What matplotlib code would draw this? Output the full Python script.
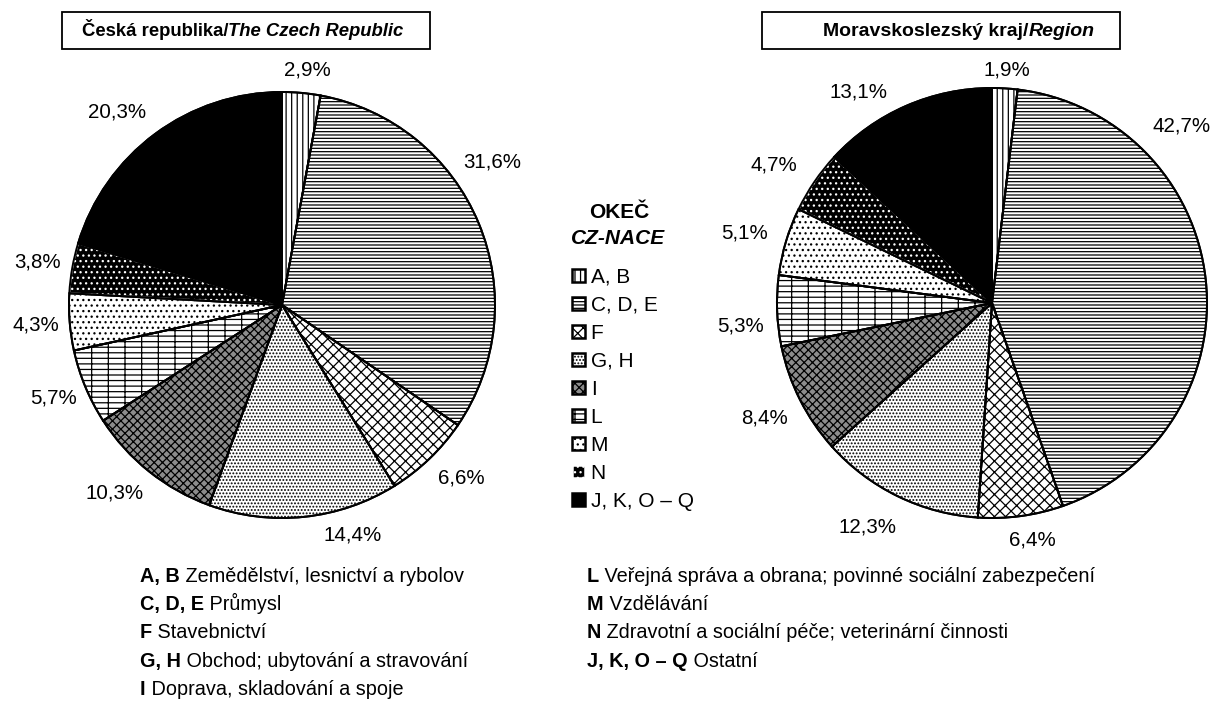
import matplotlib.pyplot as plt
from matplotlib.patches import Rectangle

plt.rcParams['font.family'] = ['Liberation Sans', 'DejaVu Sans']
plt.rcParams['hatch.linewidth'] = 0.9

# data
categories = ["A, B", "C, D, E", "F", "G, H", "I", "L", "M", "N", "J, K, O – Q"]
cr_values = [2.9, 31.6, 6.6, 14.4, 10.3, 5.7, 4.3, 3.8, 20.3]
msk_values = [1.9, 42.7, 6.4, 12.3, 8.4, 5.3, 5.1, 4.7, 13.1]

notes_left = [("A, B", "Zemědělství, lesnictví a rybolov"),
              ("C, D, E", "Průmysl"),
              ("F", "Stavebnictví"),
              ("G, H", "Obchod; ubytování a stravování"),
              ("I", "Doprava, skladování a spoje")]
notes_right = [("L", "Veřejná správa a obrana; povinné sociální zabezpečení"),
               ("M", "Vzdělávání"),
               ("N", "Zdravotní a sociální péče; veterinární činnosti"),
               ("J, K, O – Q", "Ostatní")]

# styles
faces = ['white', 'white', 'white', 'white', '#8c8c8c', 'white', 'white', 'black', 'black']
hatches = ['|||', '-----', 'xxx', '.....', 'xxxx', '---|', '...', '...', '']

# label placement (pie radius units)
cr_label_pos = [(0.117, 1.103), (0.986, 0.671), (0.840, -0.812), (0.333, -1.080),
                (-0.784, -0.883), (-1.075, -0.437), (-1.155, -0.094), (-1.146, 0.202),
                (-0.775, 0.906)]
msk_label_pos = [(0.070, 1.084), (0.884, 0.823), (0.186, -1.102), (-0.581, -1.042),
                 (-1.060, -0.535), (-1.172, -0.107), (-1.153, 0.326), (-1.014, 0.642),
                 (-0.623, 0.981)]

W, H = 1213, 715
fig = plt.figure(figsize=(W / 100, H / 100), dpi=100)
LIM = 1.3


def draw_pie(values, cx, cy, R, label_pos):
    side = 2 * LIM * R
    ax = fig.add_axes([(cx - LIM * R) / W, 1 - (cy + LIM * R) / H, side / W, side / H])
    labels = [("%.1f%%" % v).replace(".", ",") for v in values]
    wedges, texts = ax.pie(values, startangle=90, counterclock=False, labels=labels,
                           wedgeprops=dict(edgecolor='black', linewidth=1.4),
                           textprops=dict(fontsize=14.8))
    for w, fc, h in zip(wedges, faces, hatches):
        w.set_facecolor(fc)
        w.set_hatch(h)
        if fc == 'black' and h:
            w.set_edgecolor('white')
    # outlines on top
    ax.pie(values, startangle=90, counterclock=False,
           wedgeprops=dict(fill=False, edgecolor='black', linewidth=1.4))
    for t, (x, y) in zip(texts, label_pos):
        t.set_position((x, y))
        t.set_ha('center')
        t.set_va('center')
    ax.set_xlim(-LIM, LIM)
    ax.set_ylim(-LIM, LIM)
    ax.axis('off')
    return wedges


wedges_cr = draw_pie(cr_values, 282, 305, 213, cr_label_pos)
draw_pie(msk_values, 992, 303, 215, msk_label_pos)

ov = fig.add_axes([0, 0, 1, 1])
ov.set_xlim(0, W)
ov.set_ylim(H, 0)
ov.axis('off')
ov.patch.set_alpha(0)

renderer = fig.canvas.get_renderer()


def rich(x, y, parts, size):
    for s, weight, style in parts:
        t = ov.text(x, y, s, fontsize=size, fontweight=weight, fontstyle=style,
                    ha='left', va='baseline')
        x += t.get_window_extent(renderer).width


# title boxes
ov.add_patch(Rectangle((62, 12), 368, 37, fill=False, lw=1.3, ec='black'))
ov.add_patch(Rectangle((762, 12), 358, 37, fill=False, lw=1.3, ec='black'))
rich(82, 36, [("Česká republika/", 'bold', 'normal'),
              ("The Czech Republic", 'bold', 'italic')], 13.3)
rich(823, 36, [("Moravskoslezský kraj/", 'bold', 'normal'),
               ("Region", 'bold', 'italic')], 14.0)

# legend
ov.text(619, 212, "OKEČ", fontsize=15, fontweight='bold', ha='center', va='center')
ov.text(618, 238, "CZ-NACE", fontsize=15, fontweight='bold', fontstyle='italic',
        ha='center', va='center')
leg = fig.legend(wedges_cr, categories, loc='upper left', bbox_to_anchor=(572 / W, 1 - 268 / H),
                 frameon=False, fontsize=15, handlelength=0.6, handleheight=0.6,
                 handletextpad=0.3, labelspacing=0.43, borderpad=0, borderaxespad=0)
for hnd in leg.legend_handles:
    hnd.set_linewidth(1.8)

# notes
for i, (code, txt) in enumerate(notes_left):
    rich(140, 582 + i * 28.2, [(code, 'bold', 'normal'), (" " + txt, 'normal', 'normal')], 14.3)
for i, (code, txt) in enumerate(notes_right):
    rich(587, 582 + i * 28.2, [(code, 'bold', 'normal'), (" " + txt, 'normal', 'normal')], 14.3)

fig.savefig("out.png", dpi=100)
